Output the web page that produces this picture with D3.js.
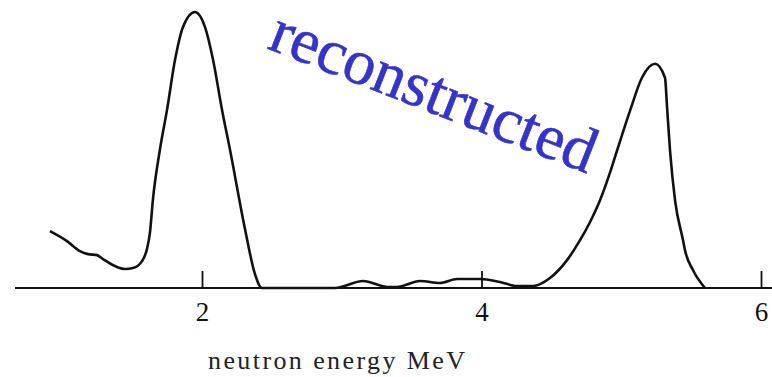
<!DOCTYPE html>
<html>
<head>
<meta charset="utf-8">
<script src="https://cdn.jsdelivr.net/npm/d3@7"></script>
<style>
  html, body { margin: 0; padding: 0; background: #fff; }
  svg { display: block; }
  .serif { font-family: "Liberation Serif", "Times New Roman", Times, serif; }
</style>
</head>
<body>
<svg id="chart" width="772" height="377"></svg>
<script>
// Neutron energy (MeV) sample points along the measured spectrum
const energy = [
  0.912, 1.034, 1.127, 1.184, 1.249, 1.292, 1.392, 1.449, 1.506, 1.571,
  1.606, 1.628, 1.649, 1.699, 1.750, 1.807, 1.864, 1.950, 2.021, 2.079,
  2.143, 2.200, 2.308, 2.379, 2.429, 2.700, 2.952, 3.152, 3.331, 3.395,
  3.560, 3.703, 3.825, 3.989, 4.132, 4.254, 4.369, 4.490, 4.612, 4.705,
  4.776, 4.848, 4.920, 4.970, 5.063, 5.148, 5.242, 5.313, 5.328, 5.349,
  5.385, 5.442, 5.456, 5.513, 5.599
];
// Relative yield (arbitrary units)
const yieldValues = [
  57, 47, 37, 34, 33, 29, 21, 19, 20, 27,
  39, 56, 89, 139, 179, 229, 262, 277, 262, 229,
  179, 139, 59, 14, 0, 0, 0, 7, 1, 1,
  7, 5, 9, 9, 6, 2, 2, 10, 28, 48,
  66, 88, 116, 138, 178, 211, 225, 211, 181, 138,
  88, 48, 38, 18, 0
];
const tickValues = [2, 4, 6];
const tickLabels = ["2", "4", "6"];
const axisTitle = "neutron energy MeV";
const overlayText = "reconstructed";

const svg = d3.select("#chart");
const x = d3.scaleLinear().domain([2, 6]).range([202, 761]);
const y = d3.scaleLinear().domain([0, 277]).range([288, 12]);

const data = energy.map((e, i) => ({ e, v: yieldValues[i] }));

// baseline of the axis across the full width
svg.append("line")
  .attr("x1", 15).attr("x2", 772)
  .attr("y1", y(0)).attr("y2", y(0))
  .attr("stroke", "#111").attr("stroke-width", 2);

// ticks point upward, labels sit below
const axis = d3.axisBottom(x)
  .tickValues(tickValues)
  .tickFormat((d, i) => tickLabels[i])
  .tickSizeInner(-17)
  .tickSizeOuter(0)
  .tickPadding(14);

const gAxis = svg.append("g")
  .attr("transform", `translate(0,${y(0)})`)
  .call(axis);
gAxis.select(".domain").remove();
gAxis.attr("font-family", null).attr("font-size", null);
gAxis.selectAll(".tick line").attr("stroke", "#111").attr("stroke-width", 1.8);
gAxis.selectAll(".tick text")
  .attr("class", "serif")
  .attr("fill", "#111")
  .style("font-size", "27px");

// spectrum curve
const line = d3.line()
  .x(d => x(d.e))
  .y(d => y(d.v))
  .curve(d3.curveMonotoneX);

svg.append("path")
  .datum(data)
  .attr("d", line)
  .attr("fill", "none")
  .attr("stroke", "#111")
  .attr("stroke-width", 2.6)
  .attr("stroke-linejoin", "round");

// axis title
svg.append("text")
  .attr("class", "serif")
  .attr("x", 208).attr("y", 369)
  .style("font-size", "26px")
  .attr("fill", "#222")
  .attr("textLength", 257)
  .attr("lengthAdjust", "spacing")
  .text(axisTitle);

// slanted overlay label
svg.append("text")
  .attr("class", "serif")
  .attr("transform", "translate(266,48) rotate(21.4)")
  .style("font-size", "64px")
  .attr("fill", "#3434c8")
  .attr("stroke", "#3434c8")
  .attr("stroke-width", 0.6)
  .text(overlayText);
</script>
</body>
</html>
